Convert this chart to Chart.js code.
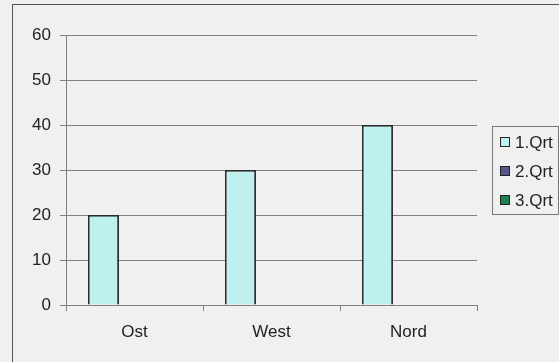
<!DOCTYPE html>
<html><head><meta charset="utf-8">
<script src="https://cdn.jsdelivr.net/npm/chart.js@4/dist/chart.umd.min.js"></script>
<style>html,body{margin:0;padding:0;background:#f0f0f0;overflow:hidden}#wrap{width:559px;height:362px}</style>
</head><body><div id="wrap"><canvas id="c" width="559" height="362"></canvas></div>
<script>
const categories = ["Ost", "West", "Nord"];
const seriesNames = ["1.Qrt", "2.Qrt", "3.Qrt"];
const q1 = [20, 30, 40];
const q2 = [null, null, null];
const q3 = [null, null, null];
const yTicks = [0, 10, 20, 30, 40, 50, 60];
const colors = ["#bff0f0", "#55558f", "#1f8050"];
const FONT = '"Liberation Sans", Arial, sans-serif';

const frame = {
  id: 'frame',
  beforeDraw(chart) {
    const ctx = chart.ctx;
    ctx.save();
    ctx.fillStyle = '#f0f0f0';
    ctx.fillRect(0, 0, chart.width, chart.height);
    ctx.strokeStyle = '#555';
    ctx.lineWidth = 1;
    ctx.strokeRect(12.5, 4.5, 700, 500);
    ctx.restore();
  },
  afterDraw(chart) {
    const ctx = chart.ctx;
    ctx.save();
    ctx.strokeStyle = '#777';
    ctx.lineWidth = 1;
    ctx.strokeRect(492.5, 126.5, 66, 88);
    ctx.font = '17px ' + FONT;
    ctx.textBaseline = 'middle';
    ctx.textAlign = 'left';
    chart.data.datasets.forEach((ds, i) => {
      const cy = 142 + i * 29;
      ctx.fillStyle = ds.backgroundColor;
      ctx.fillRect(500.5, cy - 4.5, 9, 9);
      ctx.strokeStyle = '#222';
      ctx.strokeRect(500.5, cy - 4.5, 9, 9);
      ctx.fillStyle = '#222';
      ctx.fillText(ds.label, 515, cy + 1);
    });
    ctx.restore();
  }
};

const datasets = [q1, q2, q3].map((d, i) => ({
  label: seriesNames[i],
  data: d,
  backgroundColor: colors[i],
  borderColor: '#2a2a2a',
  borderWidth: 1.8,
  categoryPercentage: 0.68,
  barPercentage: 1.0
}));

new Chart(document.getElementById('c'), {
  type: 'bar',
  data: { labels: categories, datasets },
  plugins: [frame],
  options: {
    responsive: false,
    animation: false,
    devicePixelRatio: 1,
    layout: { padding: { top: 35, right: 82, left: 0, bottom: 0 } },
    plugins: { legend: { display: false }, tooltip: { enabled: false } },
    scales: {
      x: {
        offset: true,
        afterFit(s) { s.height = 57; },
        grid: { offset: true, drawOnChartArea: false, drawTicks: true, tickLength: 6, color: '#808080' },
        border: { color: '#808080', width: 1 },
        ticks: { padding: 11, color: '#222', font: { family: FONT, size: 17 } }
      },
      y: {
        min: 0, max: 60,
        afterBuildTicks(s) { s.ticks = yTicks.map(v => ({ value: v })); },
        afterFit(s) { s.width = 66; },
        grid: { color: '#808080', drawTicks: true, tickLength: 6 },
        border: { color: '#808080', width: 1 },
        ticks: { padding: 9, color: '#222', font: { family: FONT, size: 17 } }
      }
    }
  }
});
</script></body></html>
